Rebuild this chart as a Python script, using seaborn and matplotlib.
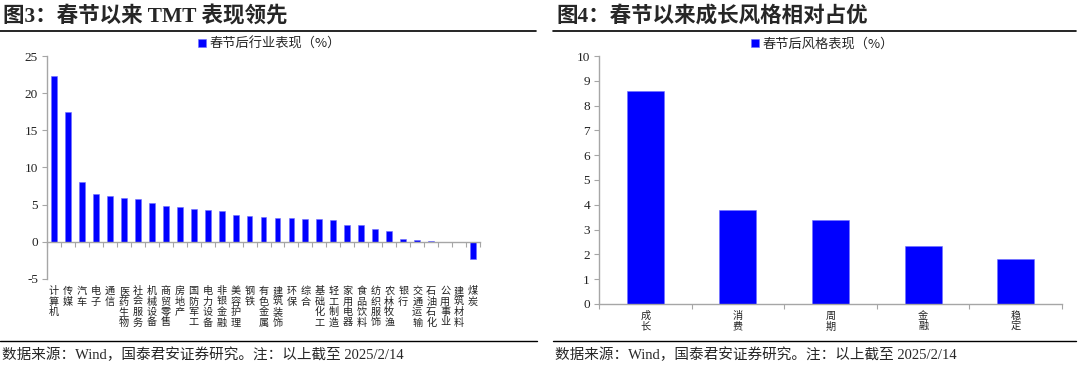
import matplotlib
matplotlib.use("Agg")
import matplotlib.pyplot as plt
import seaborn as sns
import numpy as np
import pandas as pd

# Data
industries = ["计算机", "传媒", "汽车", "电子", "通信", "医药生物", "社会服务", "机械设备",
              "商贸零售", "房地产", "国防军工", "电力设备", "非银金融", "美容护理", "钢铁",
              "有色金属", "建筑装饰", "环保", "综合", "基础化工", "轻工制造", "家用电器",
              "食品饮料", "纺织服饰", "农林牧渔", "银行", "交通运输", "石油石化", "公用事业",
              "建筑材料", "煤炭"]
industry_perf = [22.3, 17.4, 8.1, 6.4, 6.1, 5.95, 5.8, 5.2, 4.8, 4.7, 4.45, 4.25, 4.1, 3.6, 3.45,
                 3.4, 3.2, 3.15, 3.1, 3.05, 2.9, 2.25, 2.2, 1.7, 1.45, 0.4, 0.22, 0.08, -0.02,
                 -0.06, -2.3]

styles = ["成长", "消费", "周期", "金融", "稳定"]
style_perf = [8.6, 3.8, 3.37, 2.35, 1.81]

left_legend = "春节后行业表现（%）"
right_legend = "春节后风格表现（%）"
left_title = "图3：春节以来 TMT 表现领先"
right_title = "图4：春节以来成长风格相对占优"
source_note = "数据来源：Wind，国泰君安证券研究。注：以上截至 2025/2/14"

sns.set_theme(style="white")
plt.rcParams['font.family'] = ['Liberation Serif', 'Noto Sans CJK SC', 'DejaVu Sans']
plt.rcParams['axes.unicode_minus'] = False

BLUE = "#0000ff"
GRAY = "#a6a6a6"

fig = plt.figure(figsize=(10.8, 3.67), dpi=100)
ax1 = fig.add_axes([0.0435, 0.2398, 0.4010, 0.6076])
ax2 = fig.add_axes([0.5546, 0.1717, 0.4287, 0.6757])

df1 = pd.DataFrame({"cat": industries, "val": industry_perf})
df2 = pd.DataFrame({"cat": styles, "val": style_perf})

sns.barplot(data=df1, x="cat", y="val", color=BLUE, width=0.42, ax=ax1,
            label=left_legend, saturation=1, edgecolor="#6f6fff", linewidth=0.4)
sns.barplot(data=df2, x="cat", y="val", color=BLUE, width=0.4, ax=ax2,
            label=right_legend, saturation=1, edgecolor="#6f6fff", linewidth=0.4)

# x axis of the industry chart sits on zero (set before styling the ticks)
ax1.spines["bottom"].set_position(("data", 0))


def vert(s):
    return "\n".join(list(s))


def style_axis(ax, cats, pad):
    n = len(cats)
    ax.set_xlim(-0.5, n - 0.5)
    for s in ["top", "right"]:
        ax.spines[s].set_visible(False)
    for s in ["left", "bottom"]:
        ax.spines[s].set_color(GRAY)
        ax.spines[s].set_linewidth(1.0)
    ax.set_xlabel("")
    ax.set_ylabel("")
    ax.set_xticks(np.arange(n))
    ax.set_xticklabels([vert(c) for c in cats], fontsize=7.3, linespacing=1.05,
                       family=['Noto Sans CJK SC'], color="#222222")
    ax.set_xticks(np.arange(n + 1) - 0.5, minor=True)
    ax.tick_params(axis="x", which="major", length=0, pad=pad)
    ax.tick_params(axis="x", which="minor", length=3.5, width=0.8, color=GRAY, direction="out", bottom=True)
    ax.tick_params(axis="y", which="major", length=3.5, width=0.8, color=GRAY, direction="out",
                   left=True, labelsize=9.5, pad=3, labelcolor="#222222")
    ax.grid(False)


style_axis(ax1, industries, 32)
ax1.set_ylim(-5, 25)
ax1.set_yticks(range(-5, 26, 5))

style_axis(ax2, styles, 5)
ax2.set_ylim(0, 10)
ax2.set_yticks(range(0, 11))

# legends
for ax, x in [(ax1, 0.172), (ax2, 0.684)]:
    ax.legend(loc="center left", bbox_to_anchor=(x, 0.88), bbox_transform=fig.transFigure,
              frameon=False, handlelength=0.6, handleheight=0.6, handletextpad=0.3,
              prop={"family": ["Noto Sans CJK SC"], "size": 9.5})

# titles and rules
fig.text(0.003, 0.955, left_title, fontsize=15.5, fontweight="bold", va="center", ha="left",
         family=['Liberation Serif', 'Noto Sans CJK SC'])
fig.text(0.515, 0.955, right_title, fontsize=15.5, fontweight="bold", va="center", ha="left",
         family=['Liberation Serif', 'Noto Sans CJK SC'])
fig.add_artist(plt.Line2D([0.0, 0.496], [0.915, 0.915], color="black", lw=1.2))
fig.add_artist(plt.Line2D([0.512, 0.996], [0.915, 0.915], color="black", lw=1.2))
fig.add_artist(plt.Line2D([0.0, 0.497], [0.071, 0.071], color="black", lw=1.0))
fig.add_artist(plt.Line2D([0.512, 0.996], [0.071, 0.071], color="black", lw=1.0))
fig.text(0.002, 0.033, source_note, fontsize=10.5, va="center", ha="left",
         family=['Liberation Serif', 'Noto Sans CJK SC'])
fig.text(0.514, 0.033, source_note, fontsize=10.5, va="center", ha="left",
         family=['Liberation Serif', 'Noto Sans CJK SC'])

fig.savefig("out.png", dpi=100)
